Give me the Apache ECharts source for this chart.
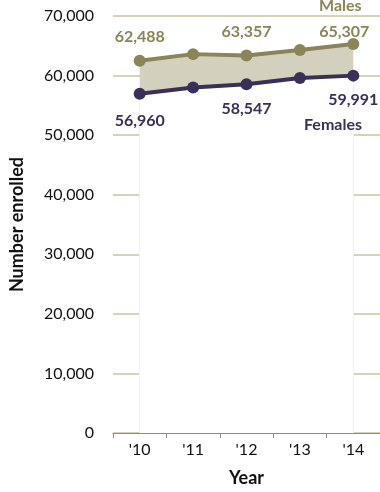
<!DOCTYPE html>
<html><head><meta charset="utf-8">
<script src="https://cdn.jsdelivr.net/npm/echarts@6/dist/echarts.min.js"></script>
<style>html,body{margin:0;padding:0;background:#fff}#c{width:380px;height:492px}</style>
</head><body><div id="c"></div>
<script>
var years = ["'10", "'11", "'12", "'13", "'14"];
var males = [62488, 63600, 63357, 64300, 65307];
var females = [56960, 58000, 58547, 59600, 59991];
var yTicks = [0, 10000, 20000, 30000, 40000, 50000, 60000, 70000];

var maleColor = '#8a8456';
var femaleColor = '#3a2f57';
var font = 'Lato, "Open Sans", sans-serif';
var fmt = function(v){ return String(v).replace(/\B(?=(\d{3})+(?!\d))/g, ','); };

var band = males.map(function(m, i){ return m - females[i]; });
var showIdx = [0, 2, 4];
var maleOffsets = [[0,-5],[0,-5],[0,-5],[0,-5],[-9,7]];
var femaleOffsets = [[0,8],[0,6],[0,6],[0,6],[0,5]];
var last = years.length - 1;

var chart = echarts.init(document.getElementById('c'));
chart.setOption({
  animation: false,
  textStyle: {fontFamily: font},
  grid: {left: 107, width: 278, top: 16, height: 420},
  xAxis: {
    type: 'category', data: years, boundaryGap: true,
    axisLine: {lineStyle: {color: '#8c8c8c', width: 1}},
    axisTick: {show: true, length: 5, lineStyle: {color: '#8c8c8c'}},
    axisLabel: {color: '#111', fontSize: 16, margin: 9, fontFamily: font},
    name: 'Year', nameLocation: 'middle', nameGap: 36,
    nameTextStyle: {fontWeight: 'bold', fontSize: 18, color: '#111', fontFamily: font}
  },
  yAxis: {
    type: 'value', min: 0, max: 70000, interval: 10000,
    axisLine: {show: false}, axisTick: {show: false},
    splitLine: {lineStyle: {color: '#c9c5a5', width: 1.5}},
    axisLabel: {color: '#111', fontSize: 16, margin: 19, fontFamily: font,
      formatter: function(v){ return yTicks.indexOf(v) >= 0 ? fmt(v) : ''; }},
    name: 'Number enrolled', nameLocation: 'middle', nameGap: 87, nameRotate: 90,
    nameTextStyle: {fontWeight: 'bold', fontSize: 18, color: '#111', fontFamily: font}
  },
  series: [
    {type: 'line', stack: 'a', data: females, symbol: 'none',
     lineStyle: {width: 0, opacity: 0}, areaStyle: {color: '#ffffff', opacity: 1}, z: 1, silent: true,
     markLine: {silent: true, symbol: 'none', z: 1, label: {show: false},
       lineStyle: {color: '#ebebeb', width: 1, type: 'solid'},
       data: [
         [{coord: [years[0], 0]}, {coord: [years[0], females[0]]}],
         [{coord: [years[last], 0]}, {coord: [years[last], females[last]]}]
       ]}},
    {type: 'line', stack: 'a', data: band, symbol: 'none',
     lineStyle: {width: 0, opacity: 0}, areaStyle: {color: '#d3d1bd', opacity: 1}, z: 1, silent: true},
    {type: 'line', data: males.map(function(v, i){
        return {value: v, label: {show: showIdx.indexOf(i) >= 0, offset: maleOffsets[i]}};
      }),
     symbol: 'circle', symbolSize: 12, itemStyle: {color: maleColor},
     lineStyle: {color: maleColor, width: 4}, z: 3,
     label: {position: 'top', color: maleColor, fontWeight: 'bold', fontSize: 16, fontFamily: font,
       formatter: function(p){ return fmt(p.value); }}},
    {type: 'line', data: females.map(function(v, i){
        return {value: v, label: {show: showIdx.indexOf(i) >= 0, offset: femaleOffsets[i]}};
      }),
     symbol: 'circle', symbolSize: 12, itemStyle: {color: femaleColor},
     lineStyle: {color: femaleColor, width: 4}, z: 3,
     label: {position: 'bottom', color: femaleColor, fontWeight: 'bold', fontSize: 16, fontFamily: font,
       formatter: function(p){ return fmt(p.value); }}}
  ],
  graphic: [
    {type: 'text', left: 319, top: -2, z: 100, style: {text: 'Males', fill: maleColor, font: 'bold 16px ' + font}},
    {type: 'text', left: 304, top: 117, z: 100, style: {text: 'Females', fill: femaleColor, font: 'bold 16px ' + font}}
  ]
});
</script></body></html>
